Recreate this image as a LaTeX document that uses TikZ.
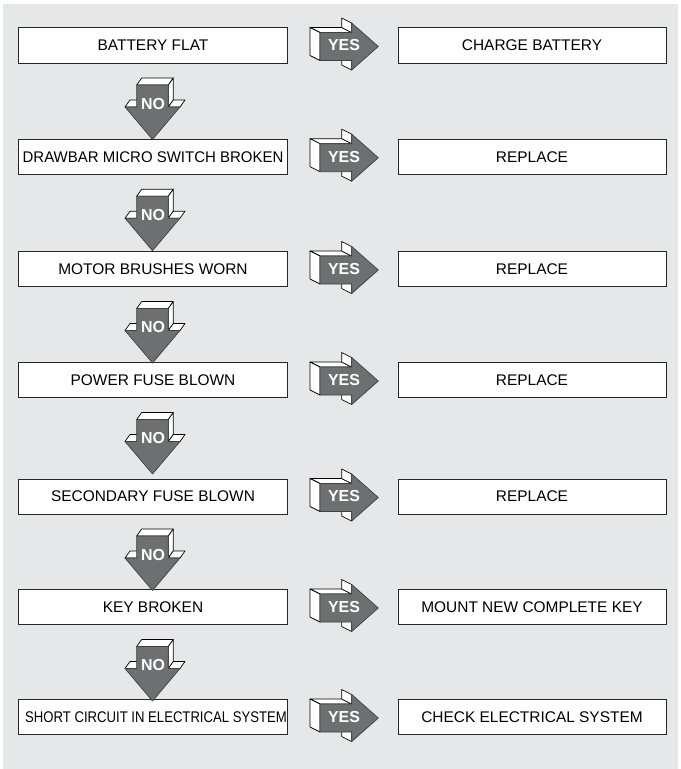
\documentclass[tikz,border=0pt]{standalone}
\usepackage{fontspec}
\setmainfont{Liberation Sans}
\usepackage{tikz}
\definecolor{panel}{RGB}{230,231,232}
\definecolor{arrowgrey}{RGB}{110,111,113}

\begin{document}
\begin{tikzpicture}[x=1bp, y=-1bp,
    box/.style={draw=black!85, line width=1bp, fill=white, minimum width=268bp, minimum height=35bp, inner sep=0pt, font=\fontsize{15.5}{18}\selectfont},
    face/.style={draw=black, line width=0.7bp, line join=round, fill=white},
    front/.style={draw=black!75, line width=0.7bp, line join=round, fill=arrowgrey},
    word/.style={text=white, inner sep=0pt, font=\bfseries\fontsize{16}{19}\selectfont},
    yesarrow/.pic={
        \path[face] (0,-13) -- (31.7,-13) -- (21.7,-18) -- (-10,-18) -- cycle;
        \path[face] (0,-13) -- (0,15) -- (-10,10) -- (-10,-18) -- cycle;
        \path[face] (31.7,-13) -- (31.7,-22.5) -- (21.7,-27.5) -- (21.7,-18) -- cycle;
        \path[face] (31.7,15) -- (31.7,24.5) -- (21.7,19.5) -- (21.7,10) -- cycle;
        \path[front] (0,-13) -- (31.7,-13) -- (31.7,-22.5) -- (58.3,1) -- (31.7,24.5) -- (31.7,15) -- (0,15) -- cycle;
        \node[word] (-t) at (24,0) {YES};
    },
    noarrow/.pic={
        \path[face] (-15.8,0) -- (15.8,0) -- (20.8,-7) -- (-10.8,-7) -- cycle;
        \path[face] (15.8,0) -- (15.8,22) -- (20.8,15) -- (20.8,-7) -- cycle;
        \path[face] (-27.5,22) -- (-15.8,22) -- (-10.8,15) -- (-22.5,15) -- cycle;
        \path[face] (15.8,22) -- (27.5,22) -- (32.5,15) -- (20.8,15) -- cycle;
        \path[front] (-15.8,0) -- (15.8,0) -- (15.8,22) -- (27.5,22) -- (0,54.5) -- (-27.5,22) -- (-15.8,22) -- cycle;
        \node[word] (-t) at (0.5,19) {NO};
    }]

    \useasboundingbox (0,0) rectangle (681,769);
    \fill[panel] (3,4) rectangle (678,769);

    % checks on the left
    \node[box] (flat) at (153,45.5) {BATTERY FLAT};
    \node[box] (micro) at (153,156.7) {\scalebox{0.97}[1]{DRAWBAR MICRO SWITCH BROKEN}};
    \node[box] (brushes) at (153,269) {MOTOR BRUSHES WORN};
    \node[box] (power) at (153,380) {POWER FUSE BLOWN};
    \node[box] (second) at (153,496.5) {SECONDARY FUSE BLOWN};
    \node[box] (key) at (153,607) {KEY BROKEN};
    \node[box] (short) at (153,717) {};
    \node[inner sep=0pt, font=\fontsize{15.5}{18}\selectfont] (shorttxt) at (156,717) {\scalebox{0.85}[1]{SHORT CIRCUIT IN ELECTRICAL SYSTEM}};

    % remedies on the right
    \node[box] (charge) at (532,45.5) {CHARGE BATTERY};
    \node[box] (rep1) at (532,156.7) {REPLACE};
    \node[box] (rep2) at (532,269) {REPLACE};
    \node[box] (rep3) at (532,380) {REPLACE};
    \node[box] (rep4) at (532,496.5) {REPLACE};
    \node[box] (newkey) at (532,607) {MOUNT NEW COMPLETE KEY};
    \node[box] (checksys) at (532,717) {CHECK ELECTRICAL SYSTEM};

    % yes arrows
    \pic (yes1) at (320,45.5) {yesarrow};
    \pic (yes2) at (320,156.7) {yesarrow};
    \pic (yes3) at (320,269) {yesarrow};
    \pic (yes4) at (320,380) {yesarrow};
    \pic (yes5) at (320,496.5) {yesarrow};
    \pic (yes6) at (320,607) {yesarrow};
    \pic (yes7) at (320,717) {yesarrow};

    % no arrows
    \pic (no1) at (152.5,85) {noarrow};
    \pic (no2) at (152.5,196.2) {noarrow};
    \pic (no3) at (152.5,308.5) {noarrow};
    \pic (no4) at (152.5,419.5) {noarrow};
    \pic (no5) at (152.5,536) {noarrow};
    \pic (no6) at (152.5,646.5) {noarrow};
\end{tikzpicture}
\end{document}
